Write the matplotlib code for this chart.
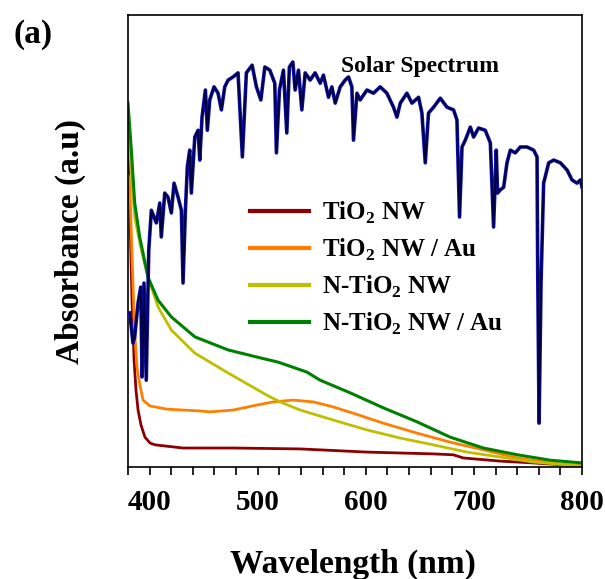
import numpy as np
import matplotlib.pyplot as plt
from matplotlib.ticker import MultipleLocator

plt.rcParams['font.family'] = ['Liberation Serif', 'DejaVu Serif']
plt.rcParams['font.weight'] = 'bold'
plt.rcParams['mathtext.fontset'] = 'custom'
plt.rcParams['mathtext.rm'] = 'Liberation Serif:bold'
plt.rcParams['mathtext.bf'] = 'Liberation Serif:bold'

# solar spectrum (arbitrary units 0-100)
solar_nm = [381.6, 384.6, 386.2, 389.3, 391.8, 393.0, 394.8, 396.9, 399.2, 401.6,
            406.2, 409.4, 410.8, 414.0, 417.0, 420.1, 422.6, 426.3, 429.4, 430.9,
            433.1, 434.9, 437.1, 438.6, 441.8, 444.8, 446.4, 448.5, 451.6, 453.4,
            455.6, 459.6, 463.3, 466.4, 469.5, 472.6, 477.2, 481.8, 485.8, 489.5,
            494.8, 498.8, 502.9, 506.6, 511.2, 515.8, 517.3, 520.1, 523.8, 526.9,
            529.3, 532.5, 534.6, 537.7, 540.8, 543.9, 548.5, 553.1, 557.8, 560.8,
            565.5, 568.6, 571.7, 576.3, 580.9, 584.0, 587.1, 588.6, 591.8, 594.8,
            601.0, 607.1, 613.3, 619.5, 625.6, 628.8, 631.9, 638.0, 642.7, 648.8,
            651.9, 655.0, 658.0, 662.7, 668.9, 675.1, 681.2, 684.3, 686.7, 689.0,
            692.0, 696.7, 699.7, 704.3, 710.5, 715.2, 718.2, 720.7, 721.9, 724.4,
            727.5, 730.6, 733.7, 738.3, 742.9, 749.2, 755.3, 758.4, 759.0, 760.3,
            762.1, 764.5, 769.2, 773.8, 780.0, 786.2, 790.8, 795.4, 798.5, 800.0]
solar_val = [34.1, 27.4, 28.8, 36.3, 39.8, 19.9, 40.7, 19.2, 48.0, 56.8,
             54.0, 58.4, 50.9, 60.6, 59.7, 56.2, 62.8, 59.7, 56.8, 40.7,
             56.8, 66.4, 70.1, 60.6, 73.0, 74.5, 67.9, 77.4, 83.4, 74.5,
             81.2, 84.1, 82.7, 79.0, 84.1, 85.6, 86.3, 87.2, 68.6, 87.2,
             88.9, 84.1, 81.2, 88.5, 87.8, 84.9, 69.5, 83.4, 87.8, 73.9,
             88.5, 89.6, 83.4, 87.8, 79.0, 87.2, 85.6, 87.2, 84.9, 86.7,
             81.8, 84.1, 80.5, 84.1, 85.6, 86.3, 84.1, 72.3, 82.7, 81.2,
             83.4, 82.7, 84.1, 82.7, 79.6, 77.4, 80.5, 82.7, 80.5, 81.8,
             78.3, 67.3, 78.3, 79.6, 81.6, 79.6, 79.0, 76.8, 55.3, 70.8,
             72.3, 75.2, 73.0, 75.0, 74.5, 71.7, 53.1, 70.1, 60.6, 61.3,
             61.9, 67.3, 70.1, 69.5, 70.8, 70.8, 70.1, 68.6, 44.2, 9.7,
             40.7, 62.8, 67.3, 67.9, 67.3, 65.7, 63.5, 62.8, 63.5, 61.9]

# absorbance curves
tio2_nm = [380.0, 381.9, 383.7, 385.6, 387.4, 389.3, 392.0, 395.7, 400.4, 405.0,
           430.9, 477.2, 539.3, 601.0, 662.4, 680.9, 690.2, 724.4, 755.0, 800.0]
tio2_val = [73.4, 54.6, 36.9, 23.7, 17.0, 12.6, 9.3, 6.6, 5.3, 4.9,
            4.2, 4.2, 4.0, 3.3, 2.9, 2.7, 2.0, 1.3, 0.9, 0.2]

tio2_au_nm = [380.0, 381.6, 383.1, 384.6, 386.2, 388.6, 391.1, 393.9, 400.4, 415.8,
              446.7, 455.9, 477.2, 499.2, 514.3, 532.8, 551.3, 569.8, 588.3, 616.1,
              647.3, 678.1, 708.7, 740.2, 770.7, 800.0]
tio2_au_val = [64.6, 62.8, 51.8, 40.7, 29.6, 21.5, 18.1, 14.8, 13.5, 12.8,
               12.4, 12.2, 12.6, 13.7, 14.4, 14.8, 14.4, 13.3, 11.9, 9.7,
               7.5, 5.5, 3.8, 2.0, 0.9, 0.2]

ntio2_nm = [380.0, 382.8, 386.2, 392.3, 398.5, 407.8, 420.1, 441.8, 472.6, 508.4,
            520.7, 539.3, 569.8, 601.0, 631.9, 662.4, 693.6, 724.4, 755.0, 800.0]
ntio2_val = [77.4, 65.7, 55.3, 48.0, 42.0, 35.4, 30.3, 25.2, 20.8, 15.9,
             14.4, 12.6, 10.4, 8.2, 6.4, 4.9, 3.3, 2.2, 1.1, 0.2]

ntio2_au_nm = [380.0, 383.1, 386.2, 390.8, 398.5, 407.8, 420.1, 441.8, 472.6, 503.1,
               518.9, 545.5, 557.8, 585.6, 616.1, 647.3, 678.1, 708.7, 740.2, 770.7, 800.0]
ntio2_au_val = [80.5, 70.1, 58.4, 50.9, 42.0, 36.9, 33.2, 28.8, 25.9, 24.1,
                23.2, 21.0, 19.2, 16.4, 13.1, 10.0, 6.6, 4.2, 2.7, 1.5, 0.9]

fig = plt.figure(figsize=(6.05, 5.79), dpi=100)
ax = fig.add_axes([128/605, 1 - 467/579, 454/605, 452/579])

ax.plot(tio2_nm, tio2_val, color='#8b0000', lw=2, label='TiO$_2$ NW')
ax.plot(tio2_au_nm, tio2_au_val, color='#ff8000', lw=2, label='TiO$_2$ NW / Au')
ax.plot(ntio2_nm, ntio2_val, color='#bfbf00', lw=2, label='N-TiO$_2$ NW')
ax.plot(ntio2_au_nm, ntio2_au_val, color='#008000', lw=2.2, label='N-TiO$_2$ NW / Au')

ax.plot(solar_nm, solar_val, color='#1010c0', lw=2.6, zorder=3)
ax.plot(solar_nm, solar_val, color='#000040', lw=1.4, zorder=4)

ax.set_xlim(380, 800)
ax.set_ylim(0, 100)
ax.xaxis.set_major_locator(MultipleLocator(100))
ax.xaxis.set_minor_locator(MultipleLocator(20))
ax.tick_params(axis='x', which='both', direction='out', length=6, width=1.2,
               labelsize=21, pad=10)
ax.tick_params(axis='y', left=False, labelleft=False)
for s in ax.spines.values():
    s.set_linewidth(1.2)

fig.text(353/605, 1 - 573/579, 'Wavelength (nm)', fontsize=24, fontweight='bold',
         ha='center', va='baseline')
ax.set_ylabel('Absorbance (a.u)', fontsize=24, fontweight='bold', labelpad=30)

ax.text(650, 88.7, 'Solar Spectrum', fontsize=17, fontweight='bold',
        ha='center', va='center')
fig.text(33/605, 1 - 34/579, '(a)', fontsize=24, fontweight='bold',
         ha='center', va='center')

leg = ax.legend(loc='upper left', bbox_to_anchor=(0.22, 0.64), frameon=False,
                handlelength=2.35, handletextpad=0.5,
                labelspacing=0.42, prop={'weight': 'bold', 'size': 18})
for line in leg.get_lines():
    line.set_linewidth(3)

fig.savefig('out.png', dpi=100)
